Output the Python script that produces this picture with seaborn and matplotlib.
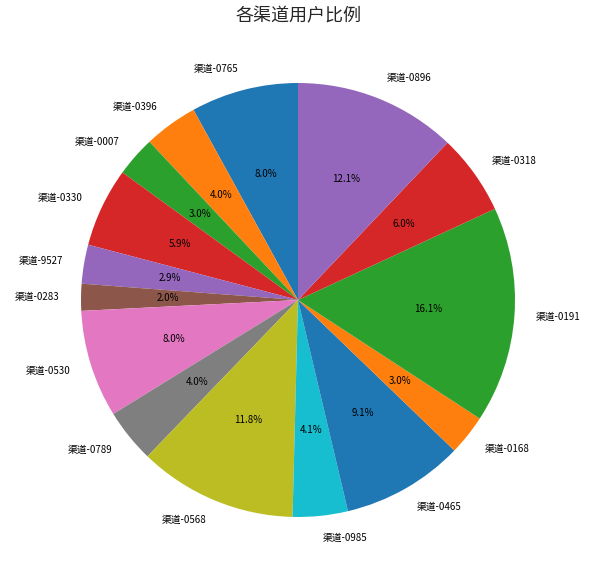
import seaborn as sns
from matplotlib import pyplot as plt

channels = ["渠道-0765", "渠道-0396", "渠道-0007", "渠道-0330", "渠道-9527",
            "渠道-0283", "渠道-0530", "渠道-0789", "渠道-0568", "渠道-0985",
            "渠道-0465", "渠道-0168", "渠道-0191", "渠道-0318", "渠道-0896"]
share = [8.0, 4.0, 3.0, 5.9, 2.9, 2.0, 8.0, 4.0, 11.8, 4.1, 9.1, 3.0, 16.1, 6.0, 12.1]

sns.set_theme(style="white")
plt.rcParams['font.family'] = ['Noto Sans CJK SC', 'DejaVu Sans']

fig = plt.figure(figsize=(5.98, 5.62), dpi=100)
ax = fig.add_axes([0, 0, 1, 1])
colors = sns.color_palette("tab10", 10)
ax.pie(share, labels=channels, colors=colors, autopct="%1.1f%%", startangle=90,
       wedgeprops={"linewidth": 0, "edgecolor": "none"},
       textprops={"fontsize": 7, "color": "black"})

# place the unit circle: radius 217 px, centre at (298, 300) px from top-left
r = 217
ax.set_aspect("auto")
ax.set_xlim(-298 / r, 300 / r)
ax.set_ylim(-262 / r, 300 / r)
ax.axis("off")

fig.text(0.5, 1 - 16 / 562, "各渠道用户比例", ha="center", va="center", fontsize=13)
fig.savefig("out.png", dpi=100)
